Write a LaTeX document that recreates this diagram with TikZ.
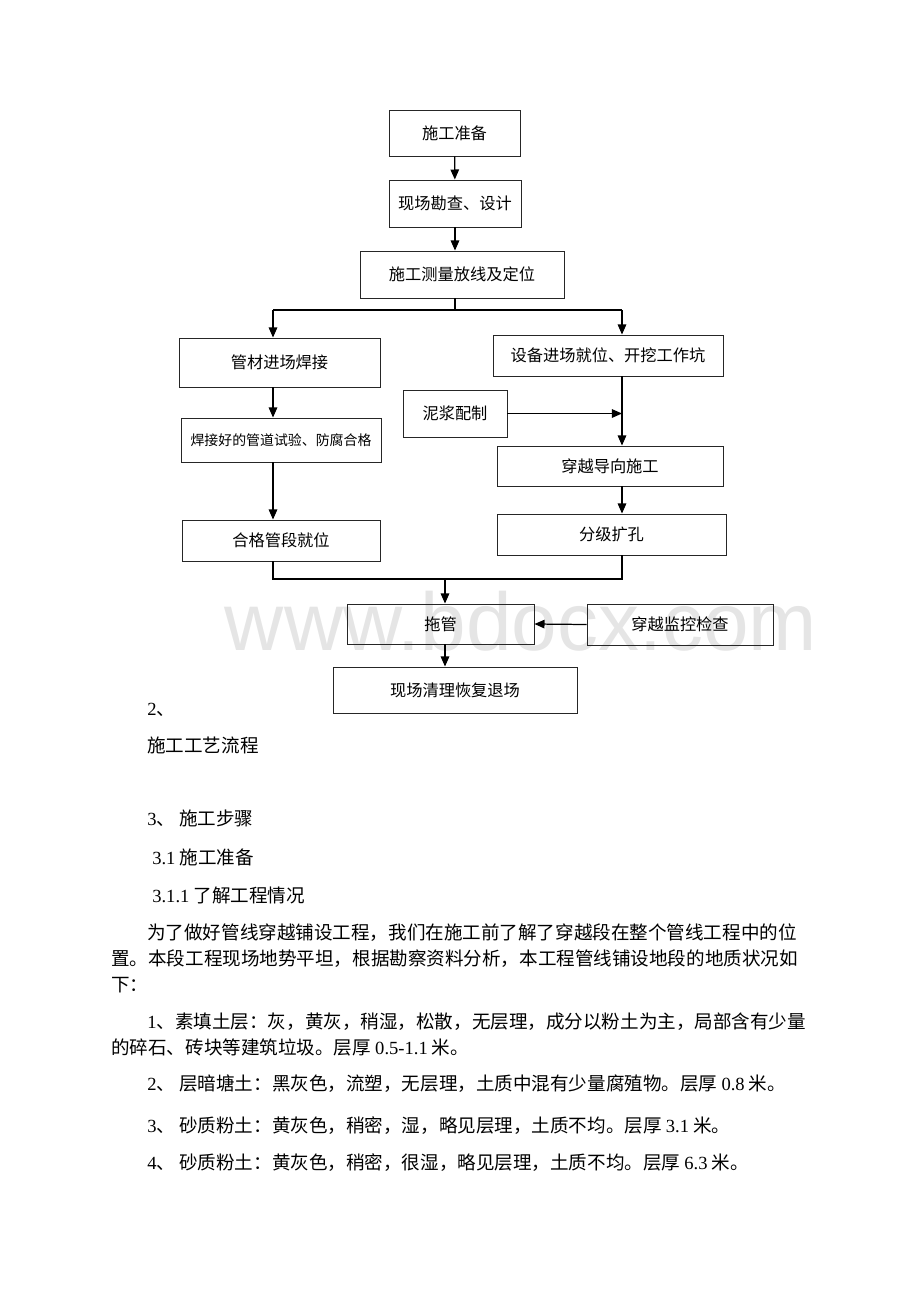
\documentclass[tikz,border=0pt]{standalone}
\usepackage{fontspec}
\setmainfont{Noto Sans CJK SC}
\newfontfamily\lat{Liberation Serif}
\newfontfamily\wmfont{Liberation Sans}
\usetikzlibrary{arrows.meta}

\begin{document}
\begin{tikzpicture}[x=0.6467pt, y=-0.6467pt,
  box/.style 2 args={draw=black!85, line width=0.6pt, inner sep=0pt,
    minimum width=#1*0.6467pt, minimum height=#2*0.6467pt,
    font=\fontsize{10.5}{12}\selectfont},
  ln/.style={line width=0.8pt},
  arr/.style={line width=0.8pt, -{Triangle[length=6.5pt, width=5.5pt]}},
  txt/.style={anchor=base west, inner sep=0pt, font=\fontsize{12}{14}\selectfont}]
\useasboundingbox (0,0) rectangle (920,1302);

\node[font=\wmfont\fontsize{53}{60}\selectfont, text=black!10, anchor=base, inner sep=0pt] (wm) at (521,650) {www.bdocx.com};

\node[box={131}{46}] (prep) at (454.5,133) {施工准备};
\node[box={132}{47}] (survey) at (455,203.5) {现场勘查、设计};
\node[box={204}{47}] (stake) at (462,274.5) {施工测量放线及定位};
\node[box={201}{49}] (weld) at (279.5,362.5) {管材进场焊接};
\node[box={230}{41}] (equip) at (608,355.5) {设备进场就位、开挖工作坑};
\node[box={104}{47}] (mud) at (455,413.5) {泥浆配制};
\node[box={200}{44}, font=\fontsize{9}{11}\selectfont] (test) at (281,440) {焊接好的管道试验、防腐合格};
\node[box={226}{40}] (pilot) at (610,466) {穿越导向施工};
\node[box={198}{41}] (place) at (281,540.5) {合格管段就位};
\node[box={229}{41}] (ream) at (611.5,534.5) {分级扩孔};
\node[box={187}{40}] (pull) at (440.5,624) {拖管};
\node[box={186}{41}] (watch) at (680,624.5) {穿越监控检查};
\node[box={244}{46}] (clean) at (455,690) {现场清理恢复退场};

\coordinate (jt) at (455,310);
\coordinate (jl) at (273,310);
\coordinate (jr) at (622,310);
\coordinate (bl) at (273,579);
\coordinate (br) at (622,579);
\coordinate (bm) at (445,579);

\draw[arr] (prep) -- (survey);
\draw[arr] (survey) -- (survey.south |- stake.north);
\draw[ln] (jt |- stake.south) -- (jt);
\draw[ln] (jl) -- (jr);
\draw[arr] (jl) -- (jl |- weld.north);
\draw[arr] (jr) -- (jr |- equip.north);
\draw[arr] (jl |- weld.south) -- (jl |- test.north);
\draw[arr] (jl |- test.south) -- (jl |- place.north);
\draw[arr] (jr |- equip.south) -- (jr |- pilot.north);
\draw[arr] (mud.east) -- (mud.east -| jr);
\draw[arr] (jr |- pilot.south) -- (jr |- ream.north);
\draw[ln] (jl |- place.south) -- (bl) -- (br) -- (jr |- ream.south);
\draw[arr] (bm) -- (bm |- pull.north);
\draw[arr] (watch.west) -- (pull.east);
\draw[arr] (bm |- pull.south) -- (bm |- clean.north);

\node[txt] (t1) at (147,715) {{\lat 2}、};
\node[txt] (t2) at (147,752) {施工工艺流程};
\node[txt] (t3) at (147,825) {{\lat 3}、\ 施工步骤};
\node[txt] (t4) at (152,864) {{\lat 3.1} 施工准备};
\node[txt] (t5) at (152,902) {{\lat 3.1.1} 了解工程情况};
\node[txt] (t6) at (147,939) {为了做好管线穿越铺设工程，我们在施工前了解了穿越段在整个管线工程中的位};
\node[txt] (t7) at (111,965) {置。本段工程现场地势平坦，根据勘察资料分析，本工程管线铺设地段的地质状况如};
\node[txt] (t8) at (111,991) {下：};
\node[txt] (t9) at (147,1028) {{\lat 1}、素填土层：灰，黄灰，稍湿，松散，无层理，成分以粉土为主，局部含有少量};
\node[txt] (t10) at (111,1054) {的碎石、砖块等建筑垃圾。层厚 {\lat 0.5-1.1} 米。};
\node[txt] (t11) at (147,1090) {{\lat 2}、\ 层暗塘土：黑灰色，流塑，无层理，土质中混有少量腐殖物。层厚 {\lat 0.8} 米。};
\node[txt] (t12) at (147,1132) {{\lat 3}、\ 砂质粉土：黄灰色，稍密，湿，略见层理，土质不均。层厚 {\lat 3.1} 米。};
\node[txt] (t13) at (147,1169) {{\lat 4}、\ 砂质粉土：黄灰色，稍密，很湿，略见层理，土质不均。层厚 {\lat 6.3} 米。};
\end{tikzpicture}
\end{document}
